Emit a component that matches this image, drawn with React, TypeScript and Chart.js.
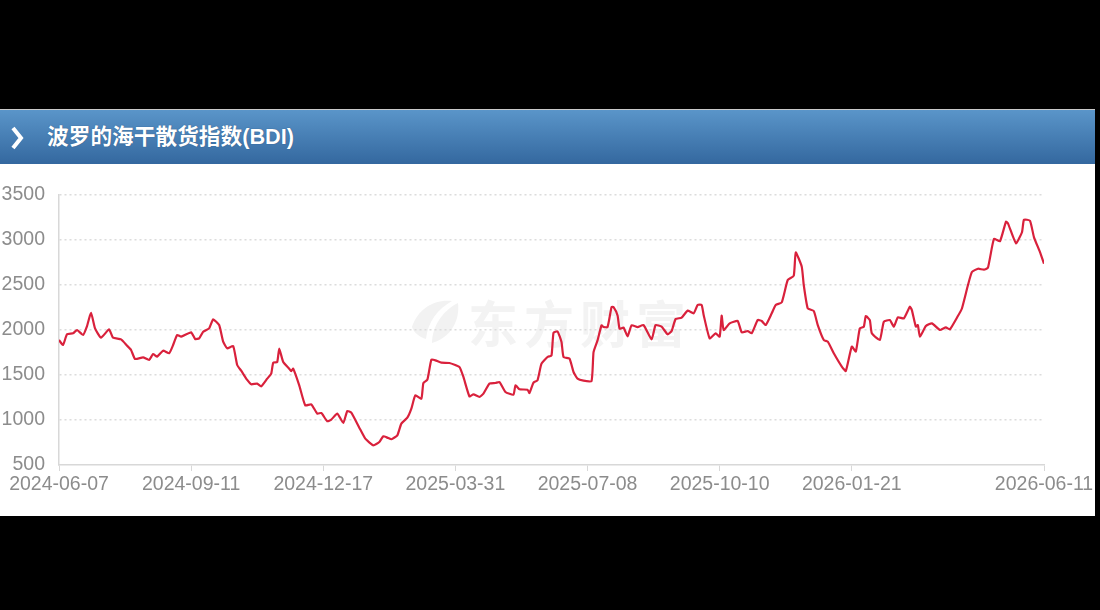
import React, { useEffect, useRef } from "react";
import Chart from "chart.js/auto";

const title = "波罗的海干散货指数(BDI)";
const watermark = "东方财富";

// position of each reading, counted in trading days from the first date
const tradingDay = [
  0, 2, 4, 7, 9, 12, 14, 16, 18, 21, 25, 27, 31, 34, 36, 38, 42, 45, 47, 49,
  52, 55, 57, 59, 61, 66, 68, 70, 72, 75, 77, 80, 82, 84, 87, 89, 91, 94, 96, 99,
  101, 104, 106, 107, 109, 110, 112, 115, 116, 117, 120, 123, 126, 129, 131, 134, 136, 139, 142, 144,
  146, 150, 153, 157, 160, 162, 164, 166, 169, 171, 174, 176, 178, 181, 182, 184, 186, 188, 191, 195,
  200, 202, 205, 207, 210, 212, 215, 218, 220, 223, 227, 228, 230, 234, 235, 237, 239, 241, 244, 246,
  247, 249, 251, 252, 255, 257, 259, 262, 266, 267, 269, 271, 272, 274, 276, 277, 279, 280, 282, 284,
  286, 289, 292, 296, 298, 301, 304, 306, 308, 311, 314, 317, 319, 321, 322, 325, 328, 330, 331, 332,
  335, 339, 341, 344, 346, 349, 351, 353, 356, 358, 361, 364, 367, 368, 371, 372, 374, 377, 379, 382,
  384, 387, 391, 393, 396, 398, 400, 402, 403, 405, 406, 410, 412, 415, 417, 419, 422, 425, 426, 428,
  429, 430, 433, 436, 440, 443, 445, 449, 451, 454, 456, 459, 462, 464, 467, 470, 473, 474, 478, 481,
  482, 485, 487, 490, 492,
];

const bdi = [
  1889, 1833, 1952, 1963, 2000, 1945, 2044, 2192, 2018, 1915, 2007, 1915, 1896, 1826, 1778, 1678, 1696, 1667, 1733, 1704,
  1770, 1741, 1833, 1944, 1926, 1974, 1900, 1907, 1981, 2018, 2118, 2055, 1870, 1796, 1822, 1611, 1548, 1445, 1397, 1404,
  1374, 1459, 1515, 1637, 1644, 1792, 1644, 1570, 1544, 1570, 1385, 1163, 1174, 1071, 1078, 986, 1004, 1071, 967, 1100,
  1082, 915, 793, 719, 756, 819, 804, 786, 830, 960, 1026, 1126, 1274, 1237, 1411, 1448, 1670, 1663, 1637, 1633,
  1589, 1478, 1263, 1285, 1256, 1293, 1404, 1411, 1422, 1311, 1282, 1385, 1341, 1337, 1300, 1415, 1441, 1626, 1700, 1718,
  1970, 1985, 1866, 1700, 1681, 1533, 1459, 1437, 1433, 1755, 1885, 2052, 2033, 2033, 2255, 2255, 2162, 2015, 2026, 1929,
  2052, 2033, 2055, 1896, 2055, 2037, 1952, 1989, 2122, 2137, 2215, 2185, 2278, 2278, 2167, 1907, 1963, 1926, 2159, 2000,
  2074, 2100, 1974, 1989, 1963, 2111, 2100, 2055, 2185, 2278, 2307, 2555, 2603, 2862, 2703, 2500, 2240, 2211, 2055, 1889,
  1870, 1741, 1593, 1544, 1816, 1761, 2018, 2037, 2155, 2110, 1963, 1890, 2092, 2110, 2037, 2140, 2129, 2258, 2221, 2037,
  2055, 1926, 2044, 2074, 2000, 2029, 2007, 2155, 2239, 2497, 2644, 2681, 2670, 2692, 3012, 2986, 3203, 3185, 2964, 3086,
  3225, 3214, 3030, 2865, 2736,
];

const tickDay = [0, 66, 132, 198, 264, 330, 396, 492];
const tickDate = [
  "2024-06-07", "2024-09-11", "2024-12-17", "2025-03-31",
  "2025-07-08", "2025-10-10", "2026-01-21", "2026-06-11",
];

export default function App() {
  const chartRef = useRef<HTMLCanvasElement>(null);

  useEffect(() => {
    if (!chartRef.current) return;

    const chart = new Chart(chartRef.current, {
      type: "line",
      data: {
        datasets: [
          {
            label: "BDI",
            data: tradingDay.map((day, i) => ({ x: day, y: bdi[i] })),
            borderColor: "#d9213c",
            borderWidth: 2.2,
            borderJoinStyle: "round",
            pointRadius: 0,
            tension: 0.15,
          },
        ],
      },
      options: {
        responsive: false,
        animation: false,
        layout: { padding: { top: 31, right: 51, left: 0, bottom: 0 } },
        plugins: { legend: { display: false }, tooltip: { enabled: false } },
        scales: {
          x: {
            type: "linear",
            min: 0,
            max: 492,
            afterBuildTicks: (axis: any) => {
              axis.ticks = tickDay.map((value) => ({ value }));
            },
            afterFit: (axis: any) => {
              axis.height = 51;
              axis.paddingLeft = 0;
              axis.paddingRight = 0;
            },
            grid: { drawOnChartArea: false, color: "#d8d8d8", tickLength: 6 },
            border: { color: "#d8d8d8", width: 1.5 },
            ticks: {
              autoSkip: false,
              maxRotation: 0,
              padding: 2,
              color: "#8c8c8c",
              font: { family: "Liberation Sans", size: 19.5 },
              callback: (value: any) => tickDate[tickDay.indexOf(value)],
            },
          },
          y: {
            min: 500,
            max: 3500,
            afterFit: (axis: any) => {
              axis.width = 59;
              axis.paddingTop = 0;
              axis.paddingBottom = 0;
            },
            grid: {
              drawTicks: false,
              color: (ctx: any) => (ctx.tick.value === 500 ? "transparent" : "#dcdcdc"),
              lineWidth: 1.5,
            },
            border: { color: "#d8d8d8", width: 1.5, dash: [2, 3] },
            ticks: {
              stepSize: 500,
              padding: 14,
              color: "#8c8c8c",
              font: { family: "Liberation Sans", size: 19.5 },
              callback: (value: any) => String(value),
            },
          },
        },
      },
    });

    return () => chart.destroy();
  }, []);

  return (
    <div style={{ position: "fixed", inset: 0, background: "#000", overflow: "hidden" }}>
      <div
        style={{
          position: "absolute",
          left: 0,
          top: 109,
          width: 1095,
          height: 407,
          background: "#fff",
          filter: "blur(0.7px)",
        }}
      >
        <div
          style={{
            height: 54,
            borderTop: "1.5px solid #c9c9c9",
            background: "linear-gradient(#5a95c9, #34689f)",
            color: "#fff",
            boxSizing: "content-box",
          }}
        >
          <svg width="40" height="54" style={{ position: "absolute", left: 0, top: 1 }}>
            <polyline points="13,18 21,28 13,38" fill="none" stroke="#fff" strokeWidth="4" />
          </svg>
          <div
            style={{
              position: "absolute",
              left: 47,
              top: 1,
              lineHeight: "54px",
              fontFamily: "'Liberation Sans', 'Noto Sans CJK SC'",
              fontSize: 21.7,
              fontWeight: 700,
              whiteSpace: "nowrap",
              textShadow: "0 0 1px #1f4a78",
            }}
          >
            {title}
          </div>
        </div>
        <svg width="60" height="60" style={{ position: "absolute", left: 408, top: 184 }}>
          <path d="M4 34 C10 16 26 6 44 8 C30 16 20 28 18 46 C12 44 6 40 4 34 Z" fill="#f2f2f2" />
          <path d="M24 50 C24 34 34 18 50 10 C52 26 44 44 24 50 Z" fill="#f2f2f2" />
        </svg>
        <div
          style={{
            position: "absolute",
            left: 468,
            top: 180,
            lineHeight: "64px",
            fontFamily: "'Noto Sans CJK SC'",
            fontSize: 50,
            fontWeight: 700,
            letterSpacing: 6,
            color: "#f3f3f3",
            whiteSpace: "nowrap",
          }}
        >
          {watermark}
        </div>
        <canvas
          ref={chartRef}
          width={1095}
          height={352}
          style={{ position: "absolute", left: 0, top: 55, width: 1095, height: 352 }}
        />
      </div>
    </div>
  );
}
